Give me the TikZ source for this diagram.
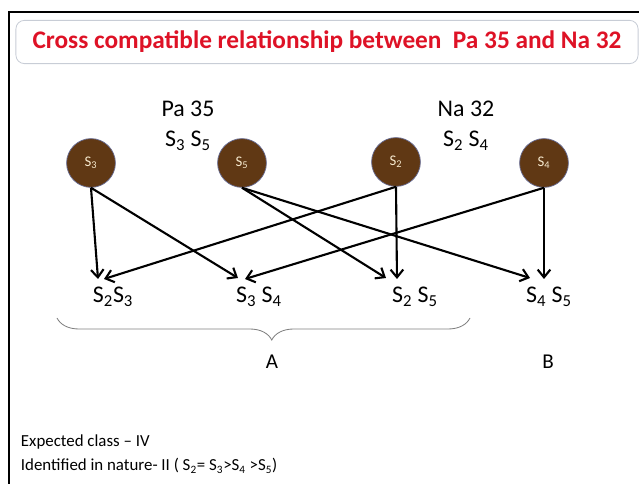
\documentclass[tikz,border=0pt]{standalone}
\usepackage{fontspec}
\setmainfont{Carlito}
\usetikzlibrary{arrows.meta, decorations.pathreplacing}
\definecolor{titleColor}{RGB}{222, 18, 38}
\definecolor{alleleColor}{RGB}{96, 56, 20}
\definecolor{alleleEdge}{RGB}{105, 110, 150}
\definecolor{alleleText}{RGB}{245, 232, 205}
\definecolor{boxEdge}{RGB}{200, 205, 214}

\begin{document}
\begin{tikzpicture}[
    x=0.025cm, y=-0.025cm,
    >={Straight Barb[length=5.5pt, width=9pt]},
    allele/.style={circle, fill=alleleColor, draw=alleleEdge, line width=0.5pt,
        inner sep=0pt, minimum size=1.22cm, text=alleleText,
        font=\fontsize{10.5}{12}\selectfont},
    parent/.style={font=\fontsize{17}{20}\selectfont},
    genotype/.style={anchor=base, font=\fontsize{17}{20}\selectfont},
    cross line/.style={->, line width=1.5pt},
    note/.style={anchor=base west, font=\fontsize{12}{14}\selectfont},
    brace below/.style={decorate,
        decoration={brace, amplitude=0.55cm, mirror, aspect=0.52}},
]

% ---- page size and frame ----
\useasboundingbox (0,0) rectangle (639,484);
\draw[line width=2.1pt] (9,484) -- (9,12) -- (639,12);

% ---- title ----
\node[draw=boxEdge, line width=0.6pt, rounded corners=6pt,
    minimum width=15.55cm, minimum height=1.08cm,
    text=titleColor, font=\fontsize{18}{21}\selectfont\bfseries]
    (title) at (327,42) {Cross compatible relationship between\ \ Pa 35 and Na 32};

% ---- parents ----
\node[parent] (pa) at (188,109) {Pa 35};
\node[parent] (paS) at (188,141) {S\textsubscript{3} S\textsubscript{5}};
\node[parent] (na) at (466,109) {Na 32};
\node[parent] (naS) at (466,141) {S\textsubscript{2} S\textsubscript{4}};

% ---- S alleles ----
\node[allele] (s3) at (91,163)  {S\textsubscript{3}};
\node[allele] (s5) at (242,163) {S\textsubscript{5}};
\node[allele] (s2) at (396,162) {S\textsubscript{2}};
\node[allele] (s4) at (544,163) {S\textsubscript{4}};

% ---- progeny genotypes ----
\node[genotype] (g23) at (113,303) {S\textsubscript{2}S\textsubscript{3}};
\node[genotype] (g34) at (259,303) {S\textsubscript{3} S\textsubscript{4}};
\node[genotype] (g25) at (415,303) {S\textsubscript{2} S\textsubscript{5}};
\node[genotype] (g45) at (549,303) {S\textsubscript{4} S\textsubscript{5}};

% arrow tips above the genotypes
\coordinate (g23a) at (98,279);
\coordinate (g23b) at (104,279);
\coordinate (g34a) at (238,278);
\coordinate (g34b) at (245,279);
\coordinate (g25a) at (386,278);
\coordinate (g25b) at (397,279);
\coordinate (g45a) at (530,278);
\coordinate (g45b) at (544,279);

% ---- crosses ----
\draw[cross line] (s3.south) -- (g23a);
\draw[cross line] (s3.south) -- (g34a);
\draw[cross line] (s5.south) -- (g25a);
\draw[cross line] (s5.south) -- (g45a);
\draw[cross line] (s2.south) -- (g23b);
\draw[cross line] (s2.south) -- (g25b);
\draw[cross line] (s4.south) -- (g34b);
\draw[cross line] (s4.south) -- (g45b);

% ---- classes ----
\draw[brace below, gray, line width=0.6pt] (57,318) -- (470,318);
\node[font=\fontsize{15}{18}\selectfont] (classA) at (272,362) {A};
\node[font=\fontsize{15}{18}\selectfont] (classB) at (548,362) {B};

% ---- notes ----
\node[note] (expected) at (16,447) {Expected class -- IV};
\node[note] (nature) at (16,471)
    {Identified in nature- II ( S\textsubscript{2}= S\textsubscript{3}>S\textsubscript{4} >S\textsubscript{5})};

\end{tikzpicture}
\end{document}
